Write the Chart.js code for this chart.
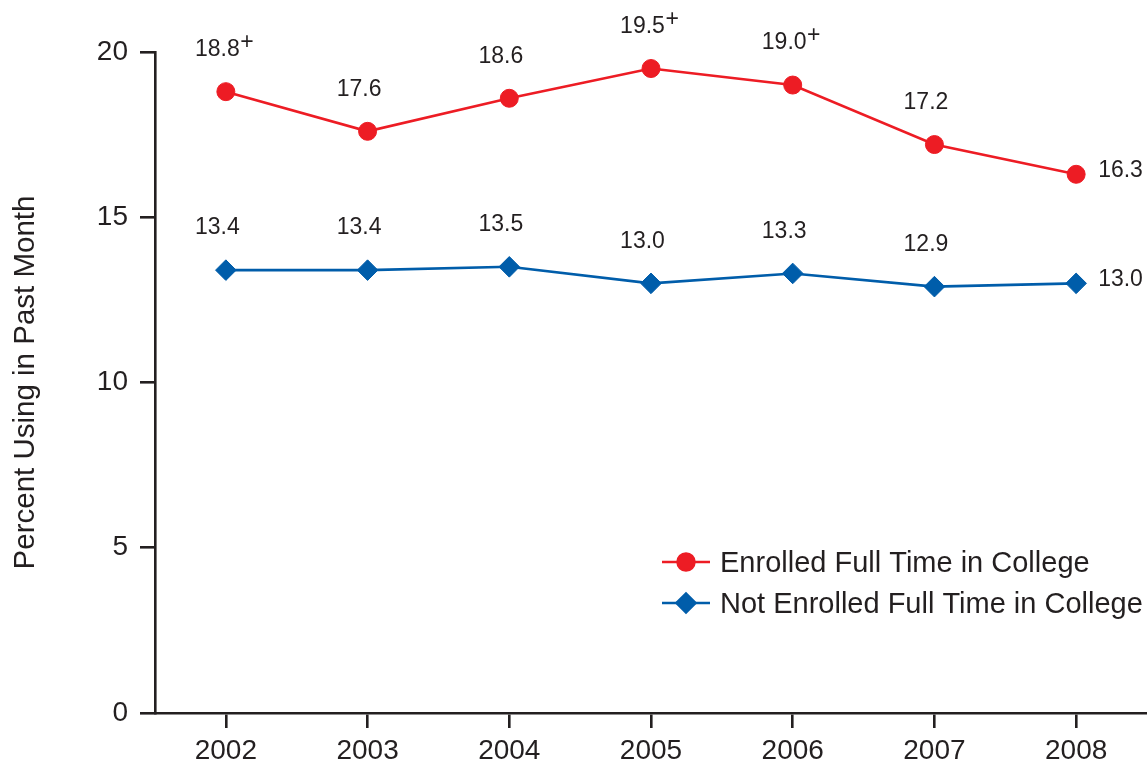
<!DOCTYPE html>
<html>
<head>
<meta charset="utf-8">
<script src="https://cdn.jsdelivr.net/npm/chart.js@4.4.1/dist/chart.umd.min.js"></script>
<style>
  html, body { margin: 0; padding: 0; background: #ffffff; }
  canvas { display: block; }
</style>
</head>
<body>
<canvas id="chart" width="1147" height="765"></canvas>
<script>
// Past-month use, by college enrollment status, 2002–2008
const years = ['2002', '2003', '2004', '2005', '2006', '2007', '2008'];
const enrolled = [18.8, 17.6, 18.6, 19.5, 19.0, 17.2, 16.3];
const notEnrolled = [13.4, 13.4, 13.5, 13.0, 13.3, 12.9, 13.0];
// "+" flags on the value labels
const enrolledFlags = [true, false, false, true, true, false, false];
const notEnrolledFlags = [false, false, false, false, false, false, false];
const yTickValues = [0, 5, 10, 15, 20];
const seriesNames = ['Enrolled Full Time in College', 'Not Enrolled Full Time in College'];
const yTitle = 'Percent Using in Past Month';

const FONT = '"Liberation Sans", Arial, Helvetica, sans-serif';
const INK = '#231F20';
const RED = '#ED1C24';
const BLUE = '#005DAA';

// Value labels above each point; the last point gets its label to the right
const valueLabels = {
  id: 'valueLabels',
  afterDatasetsDraw(chart) {
    const ctx = chart.ctx;
    ctx.save();
    ctx.fillStyle = INK;
    ctx.textBaseline = 'middle';
    ctx.textAlign = 'left';
    chart.data.datasets.forEach((ds, di) => {
      const meta = chart.getDatasetMeta(di);
      meta.data.forEach((pt, i) => {
        const text = ds.data[i].toFixed(1);
        ctx.font = '23px ' + FONT;
        const w = ctx.measureText(text).width;
        let x, y;
        if (i === meta.data.length - 1) {
          x = pt.x + 22;
          y = pt.y - 4;
        } else {
          x = pt.x - 8.5 - w / 2;
          y = pt.y - 42;
        }
        ctx.fillText(text, x, y);
        if (ds.flags[i]) {
          ctx.font = '23px ' + FONT;
          ctx.fillText('+', x + w + 0.5, y - 7);
        }
      });
    });
    ctx.restore();
  }
};

// Legend with a line segment through each marker
const lineLegend = {
  id: 'lineLegend',
  afterDraw(chart) {
    const ctx = chart.ctx;
    const area = chart.chartArea;
    const x0 = area.left + 507;
    const rowY = [area.bottom - 151, area.bottom - 110];
    const radii = [8.5, 9.5];
    ctx.save();
    chart.data.datasets.forEach((ds, di) => {
      const y = rowY[di];
      ctx.strokeStyle = ds.borderColor;
      ctx.lineWidth = 2.5;
      ctx.beginPath();
      ctx.moveTo(x0, y);
      ctx.lineTo(x0 + 48, y);
      ctx.stroke();
      ctx.fillStyle = ds.pointBackgroundColor;
      ctx.strokeStyle = ds.pointBackgroundColor;
      Chart.helpers.drawPoint(ctx, { pointStyle: ds.pointStyle, radius: radii[di], borderWidth: 1, rotation: 0 }, x0 + 24, y);
      ctx.fillStyle = INK;
      ctx.font = '29px ' + FONT;
      ctx.textAlign = 'left';
      ctx.textBaseline = 'middle';
      ctx.fillText(ds.label, x0 + 58, y + 2);
    });
    ctx.restore();
  }
};

new Chart(document.getElementById('chart'), {
  type: 'line',
  data: {
    labels: years,
    datasets: [
      {
        label: seriesNames[0],
        data: enrolled,
        flags: enrolledFlags,
        borderColor: RED,
        backgroundColor: RED,
        pointBackgroundColor: RED,
        pointBorderColor: RED,
        borderWidth: 2.6,
        pointStyle: 'circle',
        pointRadius: 9,
        pointBorderWidth: 1,
        tension: 0
      },
      {
        label: seriesNames[1],
        data: notEnrolled,
        flags: notEnrolledFlags,
        borderColor: BLUE,
        backgroundColor: BLUE,
        pointBackgroundColor: BLUE,
        pointBorderColor: BLUE,
        borderWidth: 2.6,
        pointStyle: 'rectRot',
        pointRadius: 10.3,
        pointBorderWidth: 1,
        tension: 0
      }
    ]
  },
  options: {
    responsive: false,
    animation: false,
    devicePixelRatio: 1,
    clip: false,
    layout: { autoPadding: false, padding: { top: 52, right: 0, bottom: 0, left: 0 } },
    plugins: {
      legend: { display: false },
      tooltip: { enabled: false }
    },
    scales: {
      x: {
        type: 'category',
        offset: true,
        afterFit(s) { s.height = 52; s.paddingLeft = 0; s.paddingRight = 0; },
        grid: {
          display: true,
          drawOnChartArea: false,
          drawTicks: true,
          tickLength: 15,
          color: INK,
          lineWidth: 2.6,
          offset: false
        },
        border: { display: true, color: INK, width: 2.6 },
        ticks: {
          color: INK,
          font: { family: FONT, size: 28 },
          padding: 6,
          maxRotation: 0,
          autoSkip: false
        }
      },
      y: {
        min: 0,
        max: 20,
        afterFit(s) { s.width = 155; },
        afterBuildTicks(s) { s.ticks = yTickValues.map(v => ({ value: v })); },
        grid: {
          display: true,
          drawOnChartArea: false,
          drawTicks: true,
          tickLength: 15,
          color: INK,
          lineWidth: 2.6
        },
        border: { display: true, color: INK, width: 2.6 },
        ticks: {
          color: INK,
          font: { family: FONT, size: 28 },
          padding: 12
        },
        title: {
          display: true,
          text: yTitle,
          color: INK,
          font: { family: FONT, size: 29.5 },
          padding: { top: 8, bottom: 0 }
        }
      }
    }
  },
  plugins: [valueLabels, lineLegend]
});
</script>
</body>
</html>
